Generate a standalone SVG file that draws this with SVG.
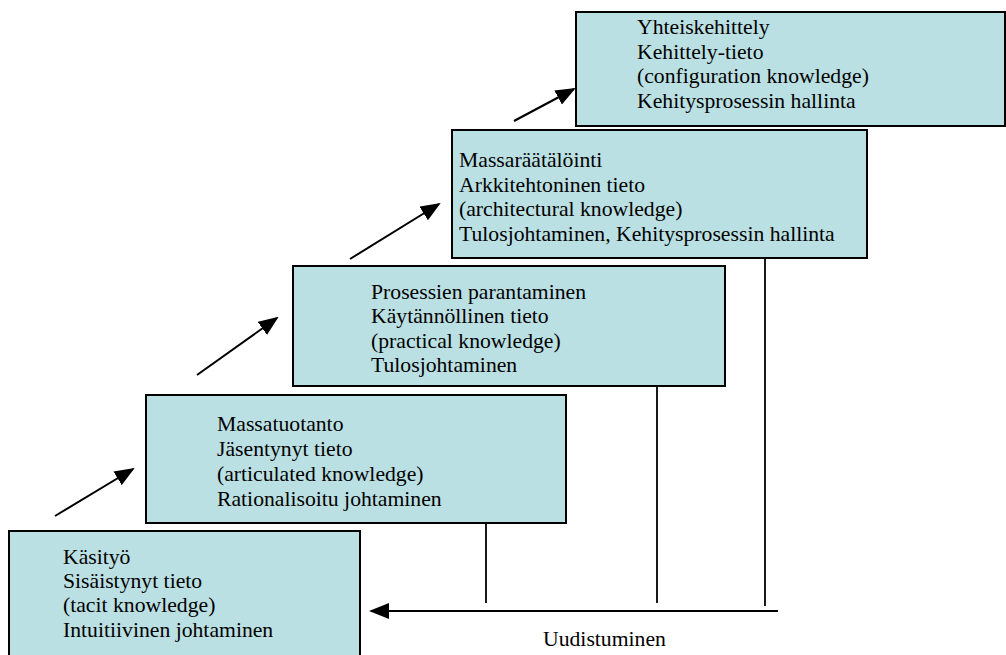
<svg xmlns="http://www.w3.org/2000/svg" width="1006" height="655" viewBox="0 0 1006 655">
<style>
.box{fill:#BBE0E3;stroke:#000;stroke-width:2}
text{font-family:'Liberation Serif','Times New Roman',Times,serif;font-size:21.7px;fill:#000}
.arr{stroke:#000;stroke-width:2;fill:none;marker-end:url(#ah)}
.ln{stroke:#000;stroke-width:1.8;fill:none}
</style>
<defs>
<marker id="ah" markerWidth="10" markerHeight="8" refX="9" refY="4" orient="auto" markerUnits="strokeWidth">
<path d="M0,0 L10,4 L0,8 z" fill="#000"/>
</marker>
</defs>
<rect width="1006" height="655" fill="#fff"/>
<g id="connectors">
<line class="arr" x1="55" y1="516" x2="133" y2="469"/>
<line class="arr" x1="197" y1="375" x2="277" y2="318"/>
<line class="arr" x1="350" y1="259" x2="439" y2="204"/>
<line class="arr" x1="514" y1="121" x2="574" y2="89"/>
<line class="ln" x1="486" y1="523" x2="486" y2="603"/>
<line class="ln" x1="657" y1="386" x2="657" y2="603"/>
<line class="ln" x1="765" y1="258" x2="765" y2="606"/>
<line class="arr" x1="778" y1="611" x2="371" y2="611"/>
</g>
<g id="n1">
<rect class="box" x="9" y="531" width="351" height="125"/>
<text x="63" y="564">Käsityö</text>
<text x="63" y="588">Sisäistynyt tieto</text>
<text x="63" y="612">(tacit knowledge)</text>
<text x="63" y="637">Intuitiivinen johtaminen</text>
</g>
<g id="n2">
<rect class="box" x="146" y="395" width="420" height="128"/>
<text x="217" y="431">Massatuotanto</text>
<text x="217" y="456">Jäsentynyt tieto</text>
<text x="217" y="481">(articulated knowledge)</text>
<text x="217" y="506">Rationalisoitu johtaminen</text>
</g>
<g id="n3">
<rect class="box" x="293" y="266" width="432" height="120"/>
<text x="371" y="299">Prosessien parantaminen</text>
<text x="371" y="323">Käytännöllinen tieto</text>
<text x="371" y="348">(practical knowledge)</text>
<text x="371" y="372">Tulosjohtaminen</text>
</g>
<g id="n4">
<rect class="box" x="452" y="130" width="415" height="128"/>
<text x="459" y="167">Massaräätälöinti</text>
<text x="459" y="192">Arkkitehtoninen tieto</text>
<text x="459" y="216">(architectural knowledge)</text>
<text x="459" y="241">Tulosjohtaminen, Kehitysprosessin hallinta</text>
</g>
<g id="n5">
<rect class="box" x="576" y="12" width="429" height="114"/>
<text x="637" y="34">Yhteiskehittely</text>
<text x="637" y="59">Kehittely-tieto</text>
<text x="637" y="83">(configuration knowledge)</text>
<text x="637" y="108">Kehitysprosessin hallinta</text>
</g>
<text x="543" y="646">Uudistuminen</text>
</svg>
